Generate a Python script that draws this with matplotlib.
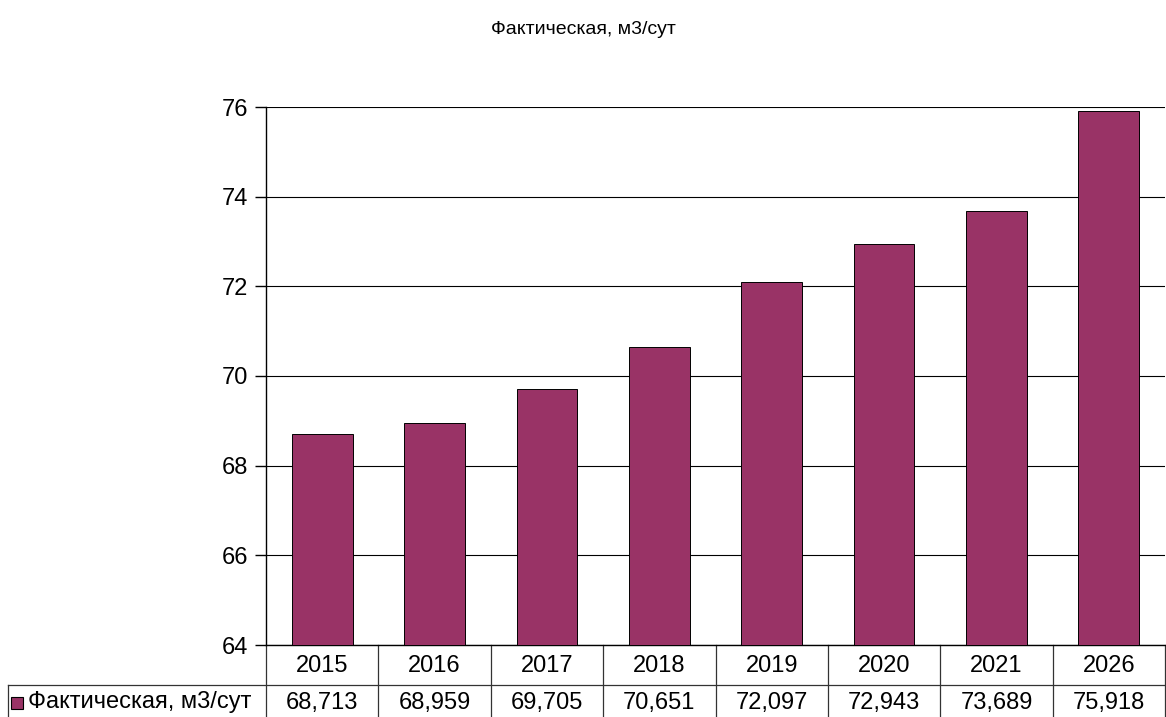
import matplotlib.pyplot as plt
from matplotlib.patches import Rectangle
import matplotlib.transforms as mtransforms

plt.rcParams['font.family'] = ['Liberation Sans', 'DejaVu Sans']

years = ['2015', '2016', '2017', '2018', '2019', '2020', '2021', '2026']
values = [68.713, 68.959, 69.705, 70.651, 72.097, 72.943, 73.689, 75.918]
series_name = 'Фактическая, м3/сут'
bar_color = '#993366'

W, H = 1166, 717
fig = plt.figure(figsize=(W / 100, H / 100), dpi=100)
ax = fig.add_axes([266 / W, (H - 645) / H, (W - 266 - 1) / W, (645 - 107) / H])

x = list(range(len(years)))
ax.bar(x, values, width=0.54, color=bar_color, edgecolor='black', linewidth=0.7,
       zorder=3)
ax.set_xlim(-0.5, len(years) - 0.5)
ax.set_ylim(64, 76)
ax.set_yticks(range(64, 77, 2))
ax.tick_params(axis='y', labelsize=17, length=8, width=1, pad=5)
ax.set_xticks([])
ax.grid(axis='y', color='black', linewidth=0.8, zorder=0)
for s in ['top', 'right']:
    ax.spines[s].set_visible(False)
ax.spines['left'].set_linewidth(1)
ax.spines['bottom'].set_linewidth(1)

fig.text(0.5, 1 - 29 / H, series_name, ha='center', va='center', fontsize=14)

# data table under the chart
ax_h = 645 - 107
trans = mtransforms.blended_transform_factory(ax.transData, ax.transAxes)
row2 = -(H - 645 + 5) / ax_h
lc = '#333333'
for i in range(len(years) + 1):
    ax.plot([i - 0.5, i - 0.5], [0, row2], color=lc, linewidth=0.9,
            transform=trans, clip_on=False)
for i, (yr, v) in enumerate(zip(years, values)):
    ax.text(i, -21 / ax_h, yr, ha='center', va='center', fontsize=17,
            transform=trans)
    ax.text(i, -58 / ax_h, f'{v:.3f}'.replace('.', ','), ha='center',
            va='center', fontsize=17, transform=trans)

# horizontal line separating header and value rows, plus left label cell
fig.add_artist(plt.Line2D([8 / W, 1], [(H - 685) / H, (H - 685) / H],
                          color=lc, linewidth=0.9))
fig.add_artist(plt.Line2D([8 / W, 8 / W], [(H - 685) / H, 0],
                          color=lc, linewidth=0.9))
fig.add_artist(Rectangle((11 / W, (H - 709) / H), 12 / W, 12 / H,
                         facecolor=bar_color, edgecolor='black', linewidth=0.8,
                         transform=fig.transFigure))
fig.text(28 / W, (H - 702) / H, series_name, ha='left', va='center',
         fontsize=17)

fig.savefig('out.png', dpi=100)
